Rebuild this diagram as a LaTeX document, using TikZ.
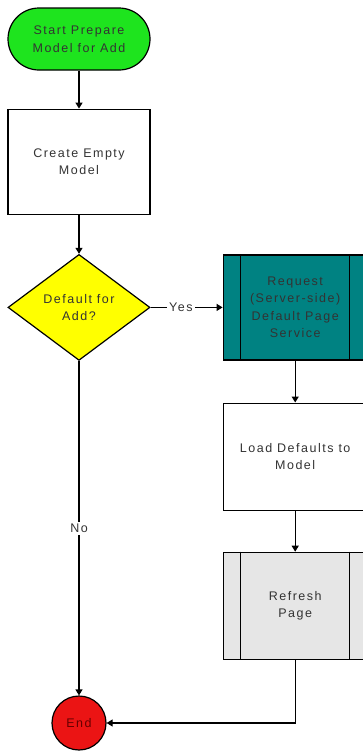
\documentclass[tikz,border=0pt]{standalone}
\usepackage{fontspec}
\setmainfont{Liberation Sans}[LetterSpace=12]
\usetikzlibrary{arrows.meta,positioning,shapes.geometric}

\definecolor{termgreen}{RGB}{30,228,30}
\definecolor{decyellow}{RGB}{255,255,0}
\definecolor{svcteal}{RGB}{0,130,130}
\definecolor{subgray}{RGB}{230,230,230}
\definecolor{endred}{RGB}{235,20,20}

\begin{document}
\begin{tikzpicture}[x=1pt,y=-1pt,>={Triangle[length=6pt,width=7pt]},line width=1.2pt]
  \tikzset{box/.style={draw,minimum width=142pt,minimum height=105pt,align=center,
      font=\fontsize{12.5}{17.5}\selectfont,text=black!80},
    term/.style={box,fill=termgreen,rounded corners=31pt,minimum height=62pt},
    decide/.style={box,diamond,fill=decyellow,minimum height=106pt,inner sep=0pt},
    pproc/.style={box,minimum width=144pt},
    endpt/.style={circle,draw,fill=endred,minimum size=54pt,inner sep=0pt,
      font=\fontsize{12.5}{15}\selectfont,text=red!40!black},
    lbl/.style={fill=white,inner sep=2pt,font=\fontsize{12.5}{15}\selectfont,text=black!80}}
  \useasboundingbox (0,0) rectangle (362,753);
  \node[term] (start) at (79,39) {Start Prepare\\Model for Add};
  \node[box,below=38pt of start] (create) {Create Empty\\Model};
  \node[decide,below=39pt of create] (dec) {Default for\\Add?};
  \node[pproc,fill=svcteal,right=72pt of dec] (req) {Request\\(Server-side)\\Default Page\\Service};
  \node[pproc,below=42pt of req,minimum height=107pt] (load) {Load Defaults to\\Model};
  \node[pproc,fill=subgray,below=41pt of load,minimum height=107pt] (refr) {Refresh\\Page};
  \node[endpt] (end) at (79,723) {End};
  \foreach \n in {req,refr} {
    \draw ([xshift=18pt]\n.north west) -- ([xshift=18pt]\n.south west);
    \draw ([xshift=-18pt]\n.north east) -- ([xshift=-18pt]\n.south east);
  }
  \draw[->] (start) -- (create);
  \draw[->] (create) -- (dec);
  \draw[->] (dec) -- node[lbl,pos=.42]{Yes} (req);
  \draw[->] (req) -- (load);
  \draw[->] (load) -- (refr);
  \draw[->] (refr) |- (end);
  \draw[->] (dec) -- node[lbl]{No} (end);
\end{tikzpicture}
\end{document}
